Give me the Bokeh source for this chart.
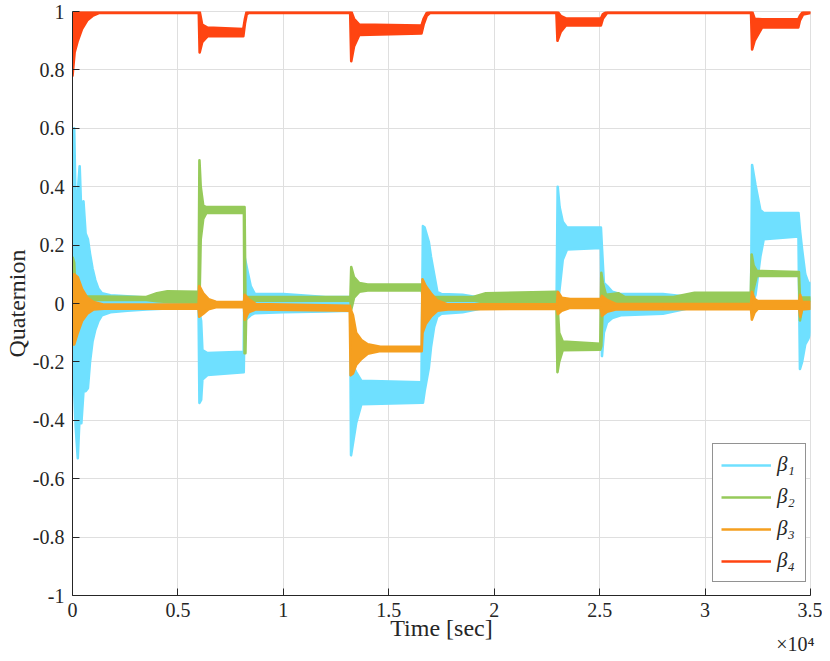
from bokeh.plotting import figure
from bokeh.models import Range1d, FixedTicker, Legend, LegendItem, Title
from bokeh.embed import file_html
from bokeh.resources import INLINE

# ---------------- data ----------------
# time axis [s]; each series is given as the upper / lower envelope of its
# (densely oscillating) trace
series_names = ["β₁", "β₂", "β₃", "β₄"]
series_colors = ["#6FE0FF", "#96CA5A", "#F59F1F", "#FF4411"]

t_b1 = [0, 80, 150, 250, 340, 420, 520, 620, 730, 830, 950, 1080, 1230, 1400, 1800, 2600, 3500, 4500, 5980,
        6020, 6100, 6160, 6400, 8120,
        8160, 8300, 8450, 8650, 10000, 12000, 13170,
        13210, 13450, 13700, 16550,
        16620, 16700, 16900, 17000, 17150, 17300, 17500, 18500, 19500, 22960,
        23010, 23100, 23250, 23450, 25060,
        25110, 25200, 25350, 25600, 26000, 28000, 29500, 32180,
        32230, 32390, 32620, 32780, 34430,
        34500, 34600, 34750, 34900, 35000]
hi_b1 = [0.25, 0.60, 0.32, 0.38, 0.47, 0.30, 0.35, 0.24, 0.22, 0.17, 0.12, 0.08, 0.05, 0.035, 0.028, 0.025, 0.02, 0.015, 0.015,
         -0.03, -0.06, -0.16, -0.17, -0.165,
         0.16, 0.11, 0.06, 0.032, 0.032, 0.022, 0.022,
         -0.20, -0.235, -0.265, -0.27,
         0.265, 0.26, 0.21, 0.16, 0.10, 0.04, 0.032, 0.03, 0.018, 0.015,
         0.40, 0.33, 0.28, 0.26, 0.26,
         0.19, 0.07, 0.06, 0.04, 0.032, 0.032, 0.02, 0.015,
         0.474, 0.406, 0.32, 0.31, 0.31,
         0.25, 0.185, 0.10, 0.07, 0.07]
lo_b1 = [-0.10, -0.30, -0.42, -0.53, -0.38, -0.41, -0.30, -0.30, -0.29, -0.20, -0.13, -0.09, -0.06, -0.04, -0.03, -0.025, -0.02, -0.017, -0.017,
         -0.34, -0.33, -0.26, -0.245, -0.235,
         -0.06, -0.05, -0.04, -0.033, -0.03, -0.027, -0.025,
         -0.52, -0.41, -0.345, -0.34,
         -0.34, -0.30, -0.22, -0.15, -0.08, -0.045, -0.035, -0.03, -0.015, -0.012,
         0.0, 0.05, 0.15, 0.185, 0.19,
         -0.18, -0.10, -0.065, -0.05, -0.04, -0.035, -0.012, -0.01,
         0.0, 0.03, 0.16, 0.22, 0.23,
         -0.224, -0.20, -0.14, -0.12, -0.10]

t_b2 = [0, 80, 150, 3500, 4000, 4500, 5980,
        6020, 6080, 6200, 6350, 8130,
        8160, 8200, 8250, 13180,
        13220, 13350, 13600, 14000, 16570,
        16620, 19000, 19600, 22950,
        23000, 23080, 23250, 25030,
        25080, 25150, 25300, 25900, 26200, 28500, 29500, 32170,
        32210, 32300, 32450, 34450,
        34500, 34650, 35000]
hi_b2 = [0.16, 0.14, 0.025, 0.022, 0.035, 0.042, 0.04,
         0.49, 0.40, 0.335, 0.33, 0.33,
         0.33, 0.03, 0.022, 0.022,
         0.125, 0.09, 0.07, 0.065, 0.065,
         0.022, 0.022, 0.035, 0.04,
         0.0, -0.10, -0.13, -0.138,
         0.105, 0.07, 0.03, 0.035, 0.022, 0.022, 0.037, 0.037,
         0.168, 0.13, 0.112, 0.108,
         0.02, 0.02, 0.02]
lo_b2 = [0.0, 0.005, 0.012, 0.012, 0.008, 0.005, 0.003,
         0.0, 0.22, 0.29, 0.31, 0.31,
         -0.17, -0.17, 0.01, 0.01,
         -0.02, 0.02, 0.04, 0.045, 0.045,
         0.01, 0.01, 0.003, 0.0,
         -0.235, -0.20, -0.16, -0.158,
         -0.145, 0.0, 0.005, 0.005, 0.005, 0.005, 0.0, -0.002,
         0.0, 0.05, 0.094, 0.095,
         -0.058, 0.0, 0.01]

t_b3 = [0, 80, 250, 450, 700, 1000, 1500, 5980,
        6010, 6200, 6450, 6800, 8130,
        8170, 8350, 8700, 13150,
        13190, 13300, 13450, 13700, 14000, 14600, 16560,
        16600, 16750, 17000, 17300, 17800, 22980,
        23020, 23200, 23600, 25050,
        25110, 25350, 25800, 32180,
        32220, 32350, 32500, 34470,
        34510, 34600, 35000]
hi_b3 = [0.0, 0.10, 0.09, 0.05, 0.02, 0.005, -0.004, -0.004,
         0.06, 0.035, 0.015, 0.006, 0.005,
         0.03, 0.015, -0.002, -0.008,
         -0.02, -0.04, -0.10, -0.125, -0.14, -0.148, -0.148,
         0.083, 0.06, 0.035, 0.01, -0.003, -0.003,
         0.04, 0.02, 0.015, 0.015,
         0.026, 0.012, -0.002, -0.002,
         0.04, 0.015, 0.008, 0.008,
         0.03, 0.005, 0.005]
lo_b3 = [-0.14, -0.14, -0.10, -0.06, -0.035, -0.02, -0.018, -0.018,
         -0.045, -0.035, -0.02, -0.013, -0.013,
         -0.055, -0.03, -0.02, -0.025,
         -0.246, -0.24, -0.21, -0.19, -0.172, -0.163, -0.163,
         -0.10, -0.07, -0.045, -0.025, -0.02, -0.018,
         -0.036, -0.025, -0.015, -0.015,
         -0.042, -0.028, -0.02, -0.019,
         -0.055, -0.03, -0.018, -0.018,
         -0.045, -0.02, -0.018]

t_b4 = [0, 100, 250, 450, 700, 950, 1250, 5990,
        6030, 6150, 6400, 8100,
        8180, 8260, 8350, 13170,
        13220, 13350, 13600, 16550,
        16650, 16800, 16950, 22950,
        23000, 23150, 23400, 25060,
        25150, 25350, 32180,
        32230, 32350, 32700, 34420,
        34500, 34650, 35000]
hi_b4 = [0.97, 1.0, 1.0, 1.0, 1.0, 1.0, 1.0, 1.0,
         1.0, 0.955, 0.945, 0.94,
         0.975, 1.0, 1.0, 1.0,
         1.0, 0.975, 0.955, 0.952,
         0.975, 0.995, 1.0, 1.0,
         1.0, 0.985, 0.976, 0.976,
         0.99, 1.0, 1.0,
         1.0, 0.975, 0.973, 0.973,
         0.985, 1.0, 1.0]
lo_b4 = [0.78, 0.86, 0.90, 0.94, 0.97, 0.985, 0.995, 0.995,
         0.86, 0.895, 0.915, 0.915,
         0.96, 0.99, 0.995, 0.995,
         0.83, 0.88, 0.92, 0.925,
         0.955, 0.985, 0.995, 0.995,
         0.90, 0.93, 0.952, 0.952,
         0.975, 0.995, 0.995,
         0.87, 0.90, 0.945, 0.945,
         0.97, 0.99, 0.995]

x_ticks = [0, 5000, 10000, 15000, 20000, 25000, 30000, 35000]
x_tick_labels = ["0", "0.5", "1", "1.5", "2", "2.5", "3", "3.5"]
y_ticks = [-1, -0.8, -0.6, -0.4, -0.2, 0, 0.2, 0.4, 0.6, 0.8, 1]
y_tick_labels = ["-1", "-0.8", "-0.6", "-0.4", "-0.2", "0", "0.2", "0.4", "0.6", "0.8", "1"]

x_label = "Time [sec]"
y_label = "Quaternion"
x_exponent_text = "×10⁴"

# ---------------- figure ----------------
FONT = "Liberation Serif"
DARK = "#262626"
GRID = "#DFDFDF"

p = figure(width=822, height=653, output_backend="svg", toolbar_location=None,
           x_range=Range1d(0, 35000), y_range=Range1d(-1, 1),
           min_border_left=72, min_border_right=12, min_border_top=11, min_border_bottom=58)
p.background_fill_color = "white"
p.border_fill_color = "white"
p.outline_line_color = GRID
p.outline_line_width = 1

series = [(t_b1, hi_b1, lo_b1), (t_b2, hi_b2, lo_b2), (t_b3, hi_b3, lo_b3), (t_b4, hi_b4, lo_b4)]
legend_items = []
for (t, hi, lo), name, col in zip(series, series_names, series_colors):
    xs = list(t) + list(t)[::-1]
    ys = list(hi) + list(lo)[::-1]
    p.patch(xs, ys, fill_color=col, line_color=None)
    # outline of the band = the stroke of the plotted trace
    r = p.line(xs + xs[:1], ys + ys[:1], line_color=col, line_width=2.6, line_join="round")
    legend_items.append(LegendItem(label=name, renderers=[r]))

# axes
for ax in (p.xaxis[0], p.yaxis[0]):
    ax.axis_line_color = DARK
    ax.axis_line_width = 1
    ax.major_tick_line_color = DARK
    ax.major_tick_in = 7
    ax.major_tick_out = 0
    ax.minor_tick_line_color = None
    ax.major_label_text_font = FONT
    ax.major_label_text_font_size = "20px"
    ax.major_label_text_color = DARK
    ax.axis_label_text_font = FONT
    ax.axis_label_text_font_size = "24px"
    ax.axis_label_text_font_style = "normal"
    ax.axis_label_text_color = DARK

p.xaxis.ticker = FixedTicker(ticks=x_ticks)
p.xaxis.major_label_overrides = dict(zip(x_ticks, x_tick_labels))
p.xaxis.axis_label = x_label
p.xaxis.major_label_standoff = 7
p.xaxis.axis_label_standoff = -5

p.yaxis.ticker = FixedTicker(ticks=y_ticks)
p.yaxis.major_label_overrides = dict(zip(y_ticks, y_tick_labels))
p.yaxis.axis_label = y_label
p.yaxis.major_label_standoff = 8
p.yaxis.axis_label_standoff = 0

p.xgrid.grid_line_color = GRID
p.ygrid.grid_line_color = GRID
p.xgrid.grid_line_width = 1
p.ygrid.grid_line_width = 1

legend = Legend(items=legend_items, location=(640, 13), orientation="vertical",
                padding=8, spacing=7, margin=0,
                glyph_width=50, glyph_height=20, label_height=20, label_standoff=6,
                label_text_font=FONT, label_text_font_size="21px", label_text_font_style="italic",
                label_text_color=DARK,
                border_line_color=DARK, border_line_width=1,
                background_fill_color="white", background_fill_alpha=1.0)
p.add_layout(legend, "center")

# exponent marker of the time axis, at the right end below the axis
exp_title = Title(text=x_exponent_text, align="right", vertical_align="top",
                  standoff=-22, offset=-4,
                  text_font=FONT, text_font_size="20px", text_font_style="normal",
                  text_color=DARK)
p.add_layout(exp_title, "below")

open("out.html", "w").write(file_html(p, INLINE))
